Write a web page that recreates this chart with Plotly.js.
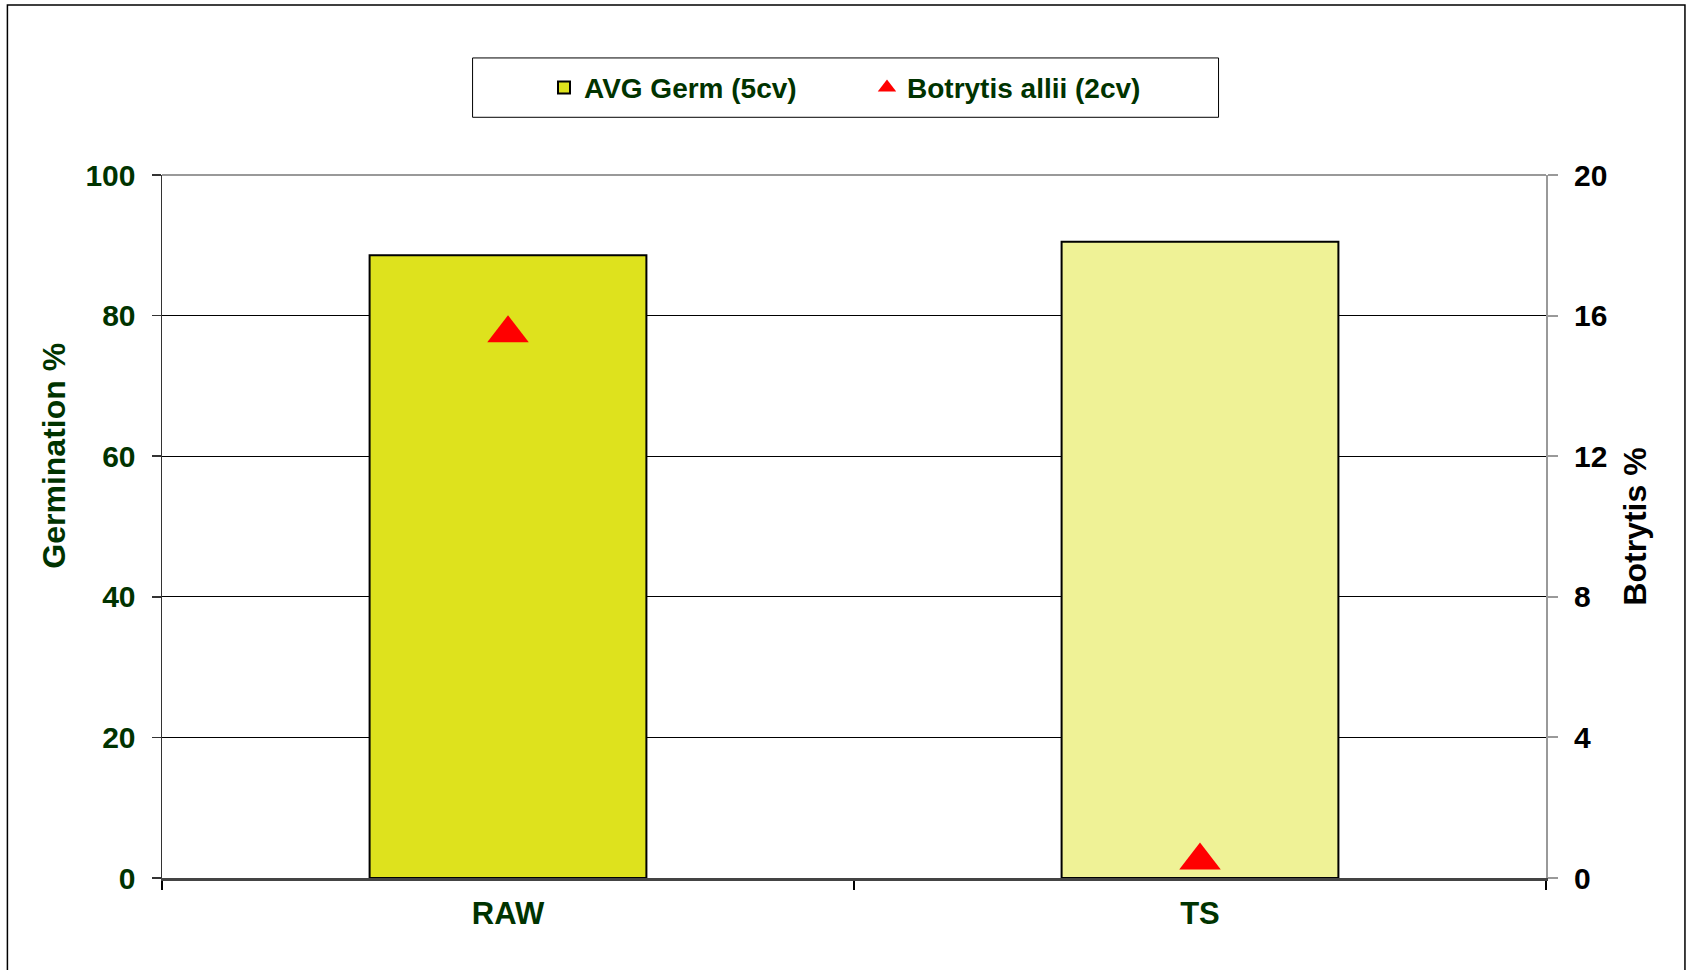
<!DOCTYPE html>
<html>
<head>
<meta charset="utf-8">
<script src="https://cdn.plot.ly/plotly-3.0.1.min.js"></script>
<style>
  html, body { margin: 0; padding: 0; background: #ffffff; }
  #chart { width: 1688px; height: 970px; }
</style>
</head>
<body>
<div id="chart"></div>
<script>
// ---- data ----
var categories = ['RAW', 'TS'];
var germValues = [88.6, 90.5];
var botrytisValues = [15.5, 0.5];
var barColors = ['#dee21d', '#eff296'];
var germTicks = [0, 20, 40, 60, 80, 100];
var botrytisTicks = [0, 4, 8, 12, 16, 20];
var germName = 'AVG Germ (5cv)';
var botrytisName = 'Botrytis allii (2cv)';
var germTitle = 'Germination %';
var botrytisTitle = 'Botrytis %';

var FONT = '"Liberation Sans", Arial, sans-serif';
var GREEN = '#003300';

var traces = [
  {
    type: 'bar',
    name: germName,
    x: categories,
    y: germValues,
    width: 0.4,
    marker: { color: barColors, line: { color: '#000000', width: 2 } },
    hoverinfo: 'x+y'
  },
  {
    type: 'scatter',
    mode: 'markers',
    name: botrytisName,
    x: categories,
    y: botrytisValues,
    yaxis: 'y2',
    cliponaxis: false,
    marker: { symbol: 'triangle-up', size: 36, color: '#ff0000', line: { width: 0 } }
  }
];

var layout = {
  width: 1688,
  height: 970,
  margin: { l: 162, r: 142, t: 175, b: 92, pad: 0 },
  paper_bgcolor: '#ffffff',
  plot_bgcolor: '#ffffff',
  font: { family: FONT, color: GREEN },
  showlegend: true,
  bargap: 0.6,
  xaxis: {
    type: 'category',
    range: [-0.5, 1.5],
    tickson: 'boundaries',
    ticks: 'outside',
    ticklen: 9,
    tickwidth: 1.5,
    tickcolor: '#000000',
    showline: true,
    linecolor: '#444444',
    linewidth: 2.5,
    showgrid: false,
    zeroline: false,
    ticklabelstandoff: 6,
    tickfont: { family: FONT, size: 31, color: GREEN, weight: 'bold' },
    fixedrange: true
  },
  yaxis: {
    range: [0, 100],
    tickvals: germTicks,
    showgrid: true,
    gridcolor: '#000000',
    gridwidth: 1,
    zeroline: false,
    showline: true,
    linecolor: '#333333',
    linewidth: 1.5,
    ticks: 'outside',
    ticklen: 9,
    tickwidth: 1.5,
    tickcolor: '#333333',
    ticklabelstandoff: 10,
    tickfont: { family: FONT, size: 30, color: GREEN, weight: 'bold' },
    fixedrange: true
  },
  yaxis2: {
    overlaying: 'y',
    side: 'right',
    range: [0, 20],
    tickvals: botrytisTicks,
    showgrid: false,
    zeroline: false,
    showline: true,
    linecolor: '#999999',
    linewidth: 2,
    ticks: 'outside',
    ticklen: 10,
    tickwidth: 2,
    tickcolor: '#999999',
    ticklabelstandoff: 10,
    tickfont: { family: FONT, size: 30, color: '#000000', weight: 'bold' },
    fixedrange: true
  },
  legend: {
    orientation: 'h',
    x: 0.276,
    xanchor: 'left',
    y: 1.1242,
    yanchor: 'middle',
    bgcolor: 'rgba(0,0,0,0)',
    borderwidth: 0,
    entrywidth: 278,
    itemsizing: 'trace',
    font: { family: FONT, size: 28, color: GREEN, weight: 'bold' }
  },
  annotations: [
    {
      text: germTitle,
      xref: 'paper', yref: 'paper',
      x: -0.078, y: 0.6008,
      xanchor: 'center', yanchor: 'middle',
      textangle: -90,
      showarrow: false,
      font: { family: FONT, size: 32, color: GREEN, weight: 'bold' }
    },
    {
      text: botrytisTitle,
      xref: 'paper', yref: 'paper',
      x: 1.0643, y: 0.4998,
      xanchor: 'center', yanchor: 'middle',
      textangle: -90,
      showarrow: false,
      font: { family: FONT, size: 32, color: '#000000', weight: 'bold' }
    }
  ],
  shapes: [
    // outer chart border
    {
      type: 'rect', xref: 'paper', yref: 'paper',
      x0: -0.1117, x1: 1.1004, y0: -0.15, y1: 1.2418,
      line: { color: '#000000', width: 1.5 }, layer: 'below'
    },
    // legend box
    {
      type: 'rect', xref: 'paper', yref: 'paper',
      x0: 0.2244, x1: 0.7634, y0: 1.0821, y1: 1.1665,
      line: { color: '#000000', width: 1 }, fillcolor: '#ffffff', layer: 'below'
    },
    // plot-area top border
    {
      type: 'line', xref: 'paper', yref: 'paper',
      x0: 0, x1: 1, y0: 1, y1: 1,
      line: { color: '#999999', width: 2 }, layer: 'above'
    }
  ]
};

Plotly.newPlot('chart', traces, layout, { displayModeBar: false, staticPlot: true });
</script>
</body>
</html>
